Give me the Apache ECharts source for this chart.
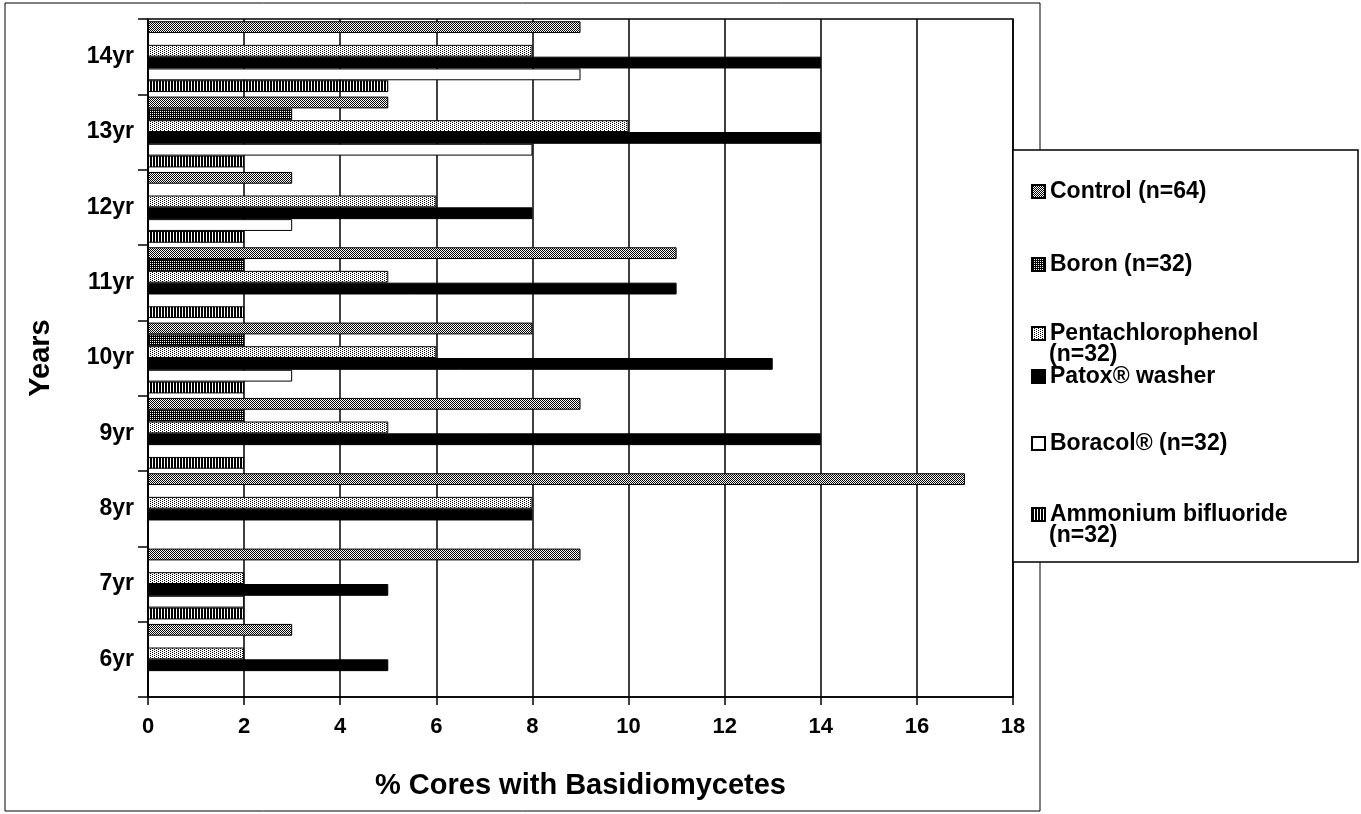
<!DOCTYPE html>
<html><head><meta charset="utf-8">
<script src="https://cdn.jsdelivr.net/npm/echarts@6/dist/echarts.min.js"></script>
<style>html,body{margin:0;padding:0;background:#fff}#c{width:1361px;height:814px}</style>
</head><body><div id="c"></div>
<script>
// ---- data ----
const categories = ['6yr', '7yr', '8yr', '9yr', '10yr', '11yr', '12yr', '13yr', '14yr'];
const seriesNames = ['Control (n=64)', 'Boron (n=32)', 'Pentachlorophenol (n=32)', 'Patox® washer', 'Boracol® (n=32)', 'Ammonium bifluoride (n=32)'];
const control  = [3, 9, 17, 9, 8, 11, 3, 5, 9];
const boron    = [0, 0, 0, 2, 2, 2, 0, 3, 0];
const penta    = [2, 2, 8, 5, 6, 5, 6, 10, 8];
const patox    = [5, 5, 8, 14, 13, 11, 8, 14, 14];
const boracol  = [0, 2, 0, 0, 3, 0, 3, 8, 9];
const ammonium = [0, 2, 0, 2, 2, 2, 2, 2, 5];
const xMin = 0, xMax = 18, xStep = 2;
const xTitle = '% Cores with Basidiomycetes';
const yTitle = 'Years';

// ---- patterns ----
function pattern(w, h, pixels, bg) {
  const c = document.createElement('canvas');
  c.width = w; c.height = h;
  const g = c.getContext('2d');
  g.fillStyle = bg || '#fff'; g.fillRect(0, 0, w, h);
  g.fillStyle = '#000';
  pixels.forEach(p => g.fillRect(p[0], p[1], 1, 1));
  return { image: c, repeat: 'repeat' };
}
const fills = [
  pattern(2, 2, [[0,0],[1,1]]),                 // Control
  pattern(2, 2, [[0,0],[1,1],[1,0]]),           // Boron
  pattern(4, 2, [[0,0],[2,1]]),                 // Pentachlorophenol
  '#000',                                       // Patox
  '#fff',                                       // Boracol
  pattern(3, 1, [[0,0],[1,0]])                  // Ammonium bifluoride
];
const values = [control, boron, penta, patox, boracol, ammonium];

const FONT = 'Liberation Sans, Arial, sans-serif';
const chart = echarts.init(document.getElementById('c'), null, { renderer: 'canvas' });

const series = seriesNames.map((n, i) => ({
  name: n, type: 'bar', data: values[i],
  barGap: '0%', barCategoryGap: '6%',
  itemStyle: { color: fills[i], borderColor: '#000', borderWidth: 1 },
  emphasis: { disabled: true }
}));

const LH = 22;
const LFS = 23;
const legendCenters = [191, 264, 333, 376, 443, 514];
const twoLine = [false, false, true, false, false, true];
const legendTextStyle = { fontFamily: FONT, fontWeight: 'bold', fontSize: LFS, color: '#000', lineHeight: LH };
const legends = seriesNames.map((n, i) => ({
  data: [n], orient: 'vertical', left: 1031, top: legendCenters[i] - LH / 2,
  padding: 0, z: 10,
  selectedMode: false, icon: 'rect', itemWidth: 13, itemHeight: 13,
  formatter: (name) => twoLine[i] ? name.split(' (n=')[0] : name,
  textStyle: legendTextStyle
}));
const secondLines = [];
seriesNames.forEach((n, i) => {
  if (twoLine[i]) {
    secondLines.push({
      type: 'text', left: 1049, top: legendCenters[i] + 21 - LH / 2, z: 10, silent: true,
      style: { text: '(n=' + n.split(' (n=')[1], font: 'bold ' + LFS + 'px ' + FONT, fill: '#000' }
    });
  }
});

chart.setOption({
  animation: false,
  backgroundColor: '#fff',
  grid: { left: 148, right: 348, top: 19, bottom: 117, show: true, borderColor: '#000', borderWidth: 1.5, containLabel: false },
  xAxis: {
    type: 'value', min: xMin, max: xMax, interval: xStep,
    axisLine: { show: true, lineStyle: { color: '#000', width: 1.5 } },
    axisTick: { show: true, length: 8, lineStyle: { color: '#000', width: 1.5 } },
    axisLabel: { fontFamily: FONT, fontWeight: 'bold', fontSize: 22, color: '#000', margin: 19 },
    splitLine: { show: true, lineStyle: { color: '#000', width: 1.5 } },
    name: xTitle, nameLocation: 'middle', nameGap: 74,
    nameTextStyle: { fontFamily: FONT, fontWeight: 'bold', fontSize: 29, color: '#000' }
  },
  yAxis: {
    type: 'category', data: categories,
    axisLine: { show: true, lineStyle: { color: '#000', width: 1.5 } },
    axisTick: { show: true, length: 10, lineStyle: { color: '#000', width: 1.5 } },
    axisLabel: { fontFamily: FONT, fontWeight: 'bold', fontSize: 23, color: '#000', margin: 14 },
    splitLine: { show: false },
    name: yTitle, nameLocation: 'middle', nameGap: 93, nameRotate: 90,
    nameTextStyle: { fontFamily: FONT, fontWeight: 'bold', fontSize: 29, color: '#000' }
  },
  legend: legends,
  graphic: [
    { type: 'rect', shape: { x: 5, y: 3, width: 1035, height: 808 }, style: { fill: 'none', stroke: '#000', lineWidth: 1 }, z: -1, silent: true },
    { type: 'rect', shape: { x: 1013, y: 150, width: 345, height: 412 }, style: { fill: '#fff', stroke: '#000', lineWidth: 1.5 }, z: 5, silent: true }
  ].concat(secondLines),
  series: series
});
</script>
</body></html>
